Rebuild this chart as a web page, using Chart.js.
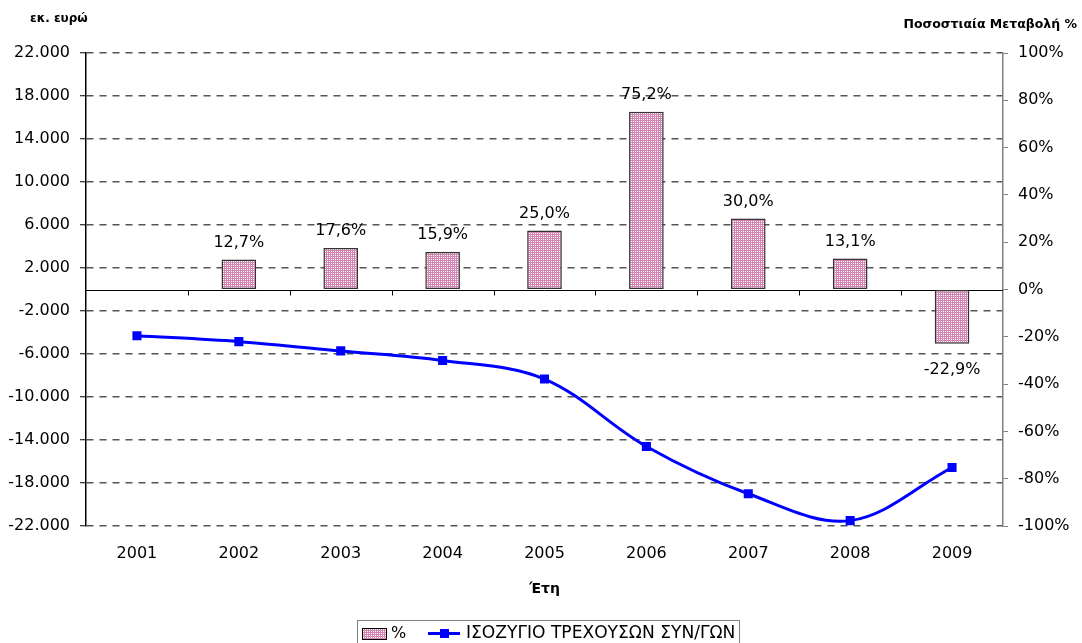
<!DOCTYPE html>
<html>
<head>
<meta charset="utf-8">
<script src="https://cdn.jsdelivr.net/npm/chart.js@4"></script>
<style>
  html, body { margin: 0; padding: 0; background: #fff; }
</style>
</head>
<body>
<canvas id="myChart" width="1082" height="643"></canvas>
<script>
// years on the category axis
var years = ['2001', '2002', '2003', '2004', '2005', '2006', '2007', '2008', '2009'];
// yearly % change (bars, right axis)
var pctChange = [null, 12.7, 17.6, 15.9, 25.0, 75.2, 30.0, 13.1, -22.9];
// current account balance, million euro (line, left axis)
var balance = [-4300, -4850, -5710, -6600, -8330, -14600, -19000, -21500, -16560];
// axis ticks
var leftTicks = [-22000, -18000, -14000, -10000, -6000, -2000, 2000, 6000, 10000, 14000, 18000, 22000];
var rightTicks = [-100, -80, -60, -40, -20, 0, 20, 40, 60, 80, 100];

var FONT = "'DejaVu Sans'";

function euro(v) {
  var s = String(Math.abs(v)).replace(/\B(?=(\d{3})+(?!\d))/g, '.');
  return (v < 0 ? '-' : '') + s;
}
function pct(v) {
  return v.toFixed(1).replace('.', ',') + '%';
}

// pink checkered fill for the bars
function makePattern() {
  var c = document.createElement('canvas');
  c.width = 2; c.height = 2;
  var g = c.getContext('2d');
  g.fillStyle = '#d384b3';
  g.fillRect(0, 0, 2, 2);
  g.fillStyle = '#ffffff';
  g.fillRect(1, 1, 1, 1);
  return g.createPattern(c, 'repeat');
}
var ctx = document.getElementById('myChart').getContext('2d');
var pinkFill = makePattern();

var extras = {
  id: 'extras',
  // category axis line crossing at zero, with tick marks between years
  beforeDatasetsDraw: function (chart) {
    var c = chart.ctx, a = chart.chartArea;
    var y0 = Math.round(chart.scales.y.getPixelForValue(0)) + 0.5;
    c.save();
    c.strokeStyle = '#000';
    c.lineWidth = 1;
    c.beginPath();
    c.moveTo(a.left, y0);
    c.lineTo(a.right, y0);
    var step = (a.right - a.left) / years.length;
    for (var i = 1; i < years.length; i++) {
      var tx = Math.round(a.left + i * step) + 0.5;
      c.moveTo(tx, y0);
      c.lineTo(tx, y0 + 5);
    }
    c.stroke();
    c.restore();
  },
  afterDraw: function (chart) {
    var c = chart.ctx, a = chart.chartArea;
    c.save();
    // value labels on the bars
    c.fillStyle = '#000';
    c.font = '16px ' + FONT;
    c.textAlign = 'center';
    c.textBaseline = 'middle';
    chart.getDatasetMeta(0).data.forEach(function (bar, i) {
      var v = pctChange[i];
      if (v === null) return;
      if (v >= 0) c.fillText(pct(v), bar.x, bar.y - 17);
      else c.fillText(pct(v), bar.x, bar.y + 26);
    });

    // axis titles
    c.font = 'bold 12px ' + FONT;
    c.textAlign = 'left';
    c.fillText('εκ. ευρώ', 30, 19);
    c.font = 'bold 12.5px ' + FONT;
    c.textAlign = 'right';
    c.fillText('Ποσοστιαία Μεταβολή %', 1077, 25);
    c.font = 'bold 14px ' + FONT;
    c.textAlign = 'center';
    c.fillText('Έτη', (a.left + a.right) / 2, 589);

    // legend
    c.strokeStyle = '#808080';
    c.lineWidth = 1;
    c.strokeRect(357.5, 620.5, 382, 30);
    c.fillStyle = pinkFill;
    c.fillRect(362, 628, 24, 11);
    c.strokeStyle = '#000';
    c.strokeRect(362.5, 628.5, 24, 11);
    c.fillStyle = '#000';
    c.font = '16px ' + FONT;
    c.textAlign = 'left';
    c.fillText('%', 391, 634);
    c.strokeStyle = '#0000ff';
    c.lineWidth = 3;
    c.beginPath();
    c.moveTo(428, 633.5);
    c.lineTo(460, 633.5);
    c.stroke();
    c.fillStyle = '#0000ff';
    c.fillRect(440, 629, 9, 9);
    c.fillStyle = '#000';
    var name = chart.data.datasets[1].label;
    var w = c.measureText(name).width;
    c.font = (16 * 269 / w).toFixed(1) + 'px ' + FONT;
    c.fillText(name, 466, 634);
    c.restore();
  }
};

var chart = new Chart(ctx, {
  type: 'bar',
  data: {
    labels: years,
    datasets: [{
      type: 'bar',
      label: '%',
      data: pctChange,
      yAxisID: 'y1',
      backgroundColor: pinkFill,
      borderColor: '#333',
      borderWidth: 1.5,
      borderSkipped: false,
      barPercentage: 0.34,
      categoryPercentage: 1,
      order: 1
    }, {
      type: 'line',
      label: 'ΙΣΟΖΥΓΙΟ ΤΡΕΧΟΥΣΩΝ ΣΥΝ/ΓΩΝ',
      data: balance,
      yAxisID: 'y',
      borderColor: '#0000ff',
      backgroundColor: '#0000ff',
      borderWidth: 3,
      tension: 0.35,
      pointStyle: 'rect',
      pointRadius: 6.4,
      pointBorderWidth: 0,
      fill: false,
      order: 0
    }]
  },
  options: {
    responsive: false,
    animation: false,
    devicePixelRatio: 1,
    layout: { padding: { top: 53, bottom: 0, left: 0, right: 0 } },
    plugins: {
      legend: { display: false },
      tooltip: { enabled: false }
    },
    scales: {
      x: {
        offset: true,
        grid: { display: false, drawTicks: false },
        border: { display: false },
        ticks: { color: '#000', font: { family: FONT, size: 16 }, padding: 18, maxRotation: 0 },
        afterFit: function (s) { s.height = 117; }
      },
      y: {
        position: 'left',
        min: -22000,
        max: 22000,
        afterBuildTicks: function (s) { s.ticks = leftTicks.map(function (v) { return { value: v }; }); },
        ticks: {
          color: '#000',
          font: { family: FONT, size: 16 },
          padding: 10,
          callback: function (v) { return euro(v); }
        },
        grid: {
          color: '#555',
          lineWidth: 1.5,
          tickLength: 6,
          tickColor: '#000',
          tickWidth: 1,
          tickBorderDash: []
        },
        border: { display: true, color: '#000', width: 1.5, dash: [7, 6] },
        afterFit: function (s) { s.width = 86; }
      },
      y1: {
        position: 'right',
        min: -100,
        max: 100,
        afterBuildTicks: function (s) { s.ticks = rightTicks.map(function (v) { return { value: v }; }); },
        ticks: {
          color: '#000',
          font: { family: FONT, size: 16 },
          padding: 10,
          callback: function (v) { return v + '%'; }
        },
        grid: {
          drawOnChartArea: false,
          tickLength: 5,
          tickColor: '#808080',
          tickWidth: 1
        },
        border: { display: true, color: '#808080', width: 1.5 },
        afterFit: function (s) { s.width = 79; }
      }
    }
  },
  plugins: [extras]
});
</script>
</body>
</html>
